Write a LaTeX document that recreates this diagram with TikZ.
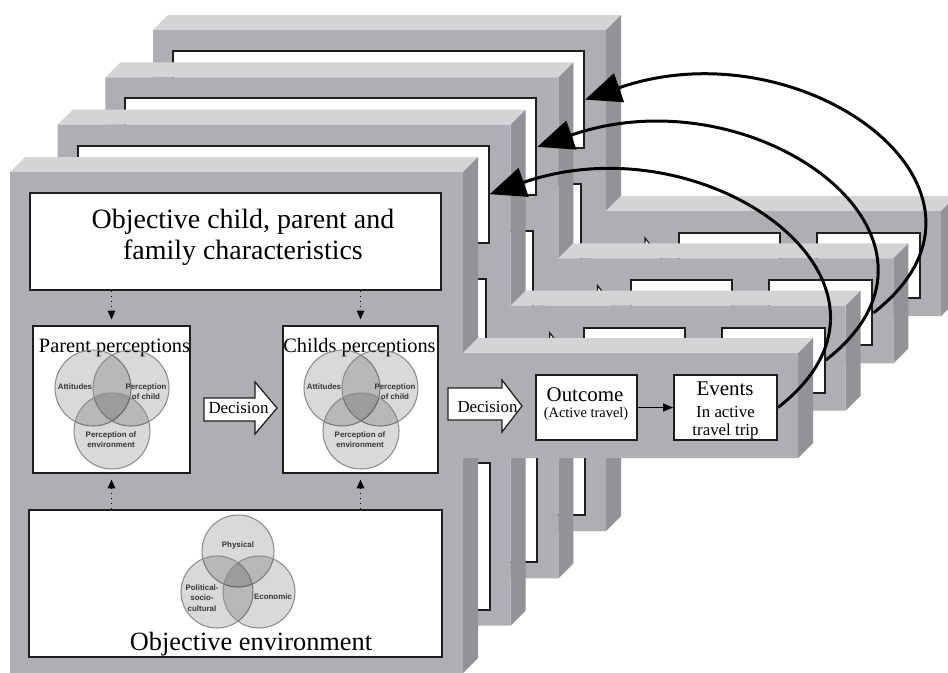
\documentclass[tikz,border=0pt]{standalone}
\usepackage{fontspec}
\setmainfont{Liberation Serif}
\newfontfamily\vennfont{Liberation Sans}
\usetikzlibrary{arrows.meta}

\definecolor{slabfront}{RGB}{174,175,178}
\definecolor{slabtop}{RGB}{211,212,214}
\definecolor{slabside}{RGB}{146,147,151}
\definecolor{boxline}{RGB}{30,30,30}
\definecolor{vennline}{RGB}{140,140,140}
\definecolor{venntext}{RGB}{55,55,55}

% one slab of the stack, with its empty boxes
\newcommand{\stacklayer}[2]{%
\begin{scope}[shift={#2}]
\fill [slabtop] (10,172) -- (25,157) -- (478,157) -- (463,172) -- cycle;
\fill [slabside] (463,172) -- (478,157) -- (478,338) -- (463,353) -- cycle;
\fill [slabtop] (463,353) -- (478,338) -- (813,338) -- (798,353) -- cycle;
\fill [slabside] (798,353) -- (813,338) -- (813,443) -- (798,458) -- cycle;
\fill [slabside] (463,458) -- (478,443) -- (478,658) -- (463,673) -- cycle;
\fill [slabfront] (10,172) -- (463,172) -- (463,353) -- (798,353) -- (798,458)
  -- (463,458) -- (463,673) -- (10,673) -- cycle;
\node [box={411}{97}] (top#1) at (235.5,241.5) {};
\node [box={157}{147}] (par#1) at (111.5,399.5) {};
\node [box={155}{147}] (chi#1) at (360.5,399.5) {};
\node [box={413}{147}] (env#1) at (235.5,583.5) {};
\node [box={101}{65}] (out#1) at (586.5,407.5) {};
\node [box={103}{65}] (ev#1) at (725.5,407.5) {};
\draw [bigarrow] (204,398) -- (255,398) -- (255,382) -- (277,408) -- (255,434) -- (255,421) -- (204,421) -- cycle;
\draw [bigarrow] (448,388) -- (502,388) -- (502,380) -- (522,406) -- (502,432) -- (502,420) -- (448,420) -- cycle;
\end{scope}}

\begin{document}
\begin{tikzpicture}[x=0.02cm, y=-0.02cm,
  every node/.append style={inner sep=0pt},
  box/.style 2 args={draw=boxline, line width=1.1pt, fill=white,
    minimum width=#1*0.02cm, minimum height=#2*0.02cm},
  bigarrow/.style={draw=boxline, line width=0.7pt, fill=white, line join=miter},
  venn/.style={draw=vennline, line width=0.6pt, fill=black, fill opacity=0.15},
  vlabel/.style={font=\vennfont\bfseries\fontsize{4.5}{5.8}\selectfont, text=venntext, align=center},
  headtext/.style={font=\fontsize{15.9}{17.6}\selectfont, align=center},
  envtext/.style={font=\fontsize{15}{17}\selectfont},
  perctext/.style={font=\fontsize{11.6}{13}\selectfont},
  boxtext/.style={font=\fontsize{11.9}{13}\selectfont},
  dectext/.style={font=\fontsize{9.6}{11}\selectfont},
  smalltext/.style={font=\fontsize{8.2}{10}\selectfont},
  dotarrow/.style={dotted, line width=0.8pt, shorten >=0.11cm,
    -{Triangle[length=0.18cm,width=0.15cm]}},
  flow/.style={line width=0.8pt, -{Triangle[length=0.2cm,width=0.16cm]}},
  feedback/.style={line width=1.7pt, -{Triangle[length=0.72cm,width=0.6cm]}}]
\useasboundingbox (0,0) rectangle (948,673);
\clip (0,0) rectangle (948,673);
\fill [white] (0,0) rectangle (948,673);

% stack, back to front
\stacklayer{4}{(143.1,-141.9)}
\stacklayer{3}{(95.4,-94.6)}
\stacklayer{2}{(47.7,-47.3)}
\stacklayer{1}{(0,0)}

% front layer texts
\node [headtext] (objtxt) at (243,237) {Objective child, parent and\\family characteristics};
\node [envtext, anchor=base] (envtxt) at (251,650) {Objective environment};
\node [perctext, anchor=base] (partxt) at (114.5,352) {Parent perceptions};
\node [perctext, anchor=base] (chitxt) at (359.5,352) {Childs perceptions};
\node [dectext, anchor=base] (dec1) at (238.5,413) {Decision};
\node [dectext, anchor=base] (dec2) at (487.5,412) {Decision};
\node [boxtext, anchor=base] (outtxt) at (585,401) {Outcome};
\node [smalltext, anchor=base] (acttxt) at (586,417.5) {(Active travel)};
\node [boxtext, anchor=base] (evtxt) at (725,395) {Events};
\node [dectext, anchor=base] (inact) at (725.5,417) {In active};
\node [dectext, anchor=base] (trip) at (725.5,435) {travel trip};

% perception venns
\foreach \nm/\dx in {par/0, chi/249} {
\begin{scope}[shift={(\dx,0)}]
\draw [venn] (93,388) circle (38);
\draw [venn] (131,388) circle (38);
\draw [venn] (112,431) circle (38);
\node [vlabel] (att\nm) at (75,387) {Attitudes};
\node [vlabel] (poc\nm) at (146,391.5) {Perception\\of child};
\node [vlabel] (poe\nm) at (111,440) {Perception of\\environment};
\end{scope}
}

% environment venn
\draw [venn] (238,551) circle (36);
\draw [venn] (217,592) circle (36);
\draw [venn] (259,592) circle (36);
\node [vlabel] (phys) at (238,545) {Physical};
\node [vlabel] (pol) at (202,598) {Political-\\socio-\\cultural};
\node [vlabel] (eco) at (273,597) {Economic};

% connectors
\draw [dotarrow] (top1.south -| par1.north) -- (par1.north);
\draw [dotarrow] (top1.south -| chi1.north) -- (chi1.north);
\draw [dotarrow] (env1.north -| par1.south) -- (par1.south);
\draw [dotarrow] (env1.north -| chi1.south) -- (chi1.south);
\draw [flow] (out1) -- (ev1);

% back to the next slab
\draw [feedback] (ev1.east) .. controls +(157,-122) and +(218,-76) .. (top2.east);
\draw [feedback] (ev2.east) .. controls +(157,-122) and +(218,-76) .. (top3.east);
\draw [feedback] (ev3.east) .. controls +(157,-122) and +(218,-76) .. (top4.east);
\end{tikzpicture}
\end{document}
